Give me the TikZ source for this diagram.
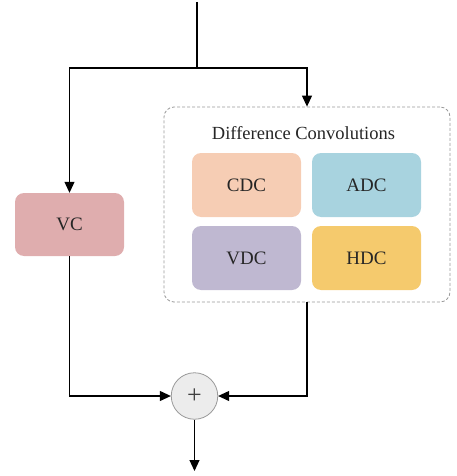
\documentclass[tikz,border=0pt]{standalone}
\usepackage{fontspec}
\setmainfont{Liberation Serif}
\usetikzlibrary{arrows.meta}
\definecolor{cdc}{HTML}{F6CDB4}
\definecolor{adc}{HTML}{A8D3DF}
\definecolor{vdc}{HTML}{BFB8D1}
\definecolor{hdc}{HTML}{F5CA6D}
\definecolor{vcc}{HTML}{DFADAE}
\tikzset{
  blk/.style={rounded corners=9pt, minimum width=109pt, minimum height=64pt, inner sep=0pt, font=\fontsize{19}{21}\selectfont, text=black!85},
  conn/.style={line width=1.1pt, black},
  arr/.style={conn, -{Triangle[length=11pt,width=10pt]}},
}
\begin{document}
\begin{tikzpicture}[x=1pt,y=-1pt]
\useasboundingbox (0,0) rectangle (457,476);
\node[draw=gray!80, dash pattern=on 3pt off 2pt, rounded corners=10pt, minimum width=286pt, minimum height=195pt, inner sep=0pt, line width=0.8pt] (dc) at (307,204.5) {};
\node[font=\fontsize{18.5}{20}\selectfont, text=black!85] (title) at (303.5,133) {Difference Convolutions};
\node[blk, fill=cdc] (cdcn) at (246.5,185) {CDC};
\node[blk, fill=adc] (adcn) at (366.5,185) {ADC};
\node[blk, fill=vdc] (vdcn) at (246.5,258) {VDC};
\node[blk, fill=hdc] (hdcn) at (366.5,258) {HDC};
\node[blk, fill=vcc, minimum height=63pt] (vc) at (69.5,224.5) {VC};
\node[circle, draw=gray!80, fill=gray!15, minimum size=46.5pt, inner sep=0pt, line width=0.8pt, font=\fontsize{26}{28}\selectfont, text=black!75] (plus) at (194.5,396) {+};
\coordinate (top) at (197,2);
\coordinate (split) at (197,68);
\coordinate (out) at (194.5,471);
\draw[conn] (top) -- (split);
\draw[arr] (split) -| (vc.north);
\draw[arr] (split) -| (dc.north);
\draw[arr] (vc.south) |- (plus.west);
\draw[arr] (dc.south) |- (plus.east);
\draw[arr] (plus.south) -- (out);
\end{tikzpicture}
\end{document}
